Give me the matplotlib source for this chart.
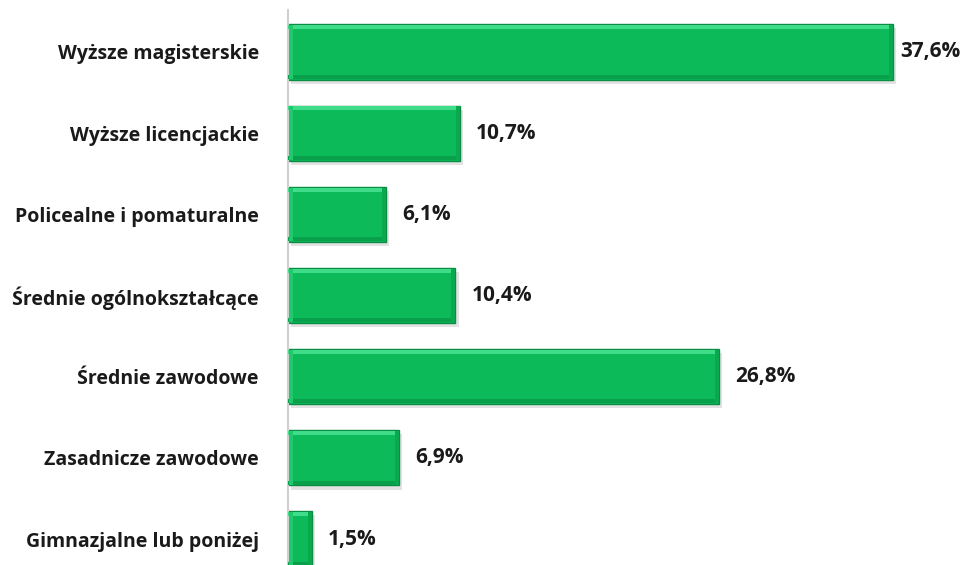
import matplotlib.pyplot as plt

categories = [
    "Wyższe magisterskie",
    "Wyższe licencjackie",
    "Policealne i pomaturalne",
    "Średnie ogólnokształcące",
    "Średnie zawodowe",
    "Zasadnicze zawodowe",
    "Gimnazjalne lub poniżej",
]
values = [37.6, 10.7, 6.1, 10.4, 26.8, 6.9, 1.5]
value_labels = ["37,6%", "10,7%", "6,1%", "10,4%", "26,8%", "6,9%", "1,5%"]

plt.rcParams['font.family'] = ['Open Sans', 'DejaVu Sans']

fig = plt.figure(figsize=(9.66, 5.65), dpi=100)
W, H = 966, 565
left, top, bottom = 288, 10, 565
ppu = 16.09  # pixels per percent
ax = fig.add_axes([left / W, 1 - bottom / H, (W - left) / W, (bottom - top) / H])

pos = list(range(len(categories)))
bh = 0.68
edge = 0.05           # bevel thickness in y units (~4 px)
side = 4 / ppu        # bevel thickness in x units

# soft shadow
ax.barh([p + 0.05 for p in pos], values, height=bh, left=0.2,
        color='#d6d6d6', alpha=0.7, zorder=1)
# main bar
ax.barh(pos, values, height=bh, color='#0cba5a', edgecolor='#0a8c44',
        linewidth=1.0, zorder=2)
# bevels: light top, darker bottom and right
ax.barh([p - bh / 2 + edge / 2 + 0.01 for p in pos], values, height=edge,
        color='#3fdc8a', linewidth=0, zorder=3)
ax.barh([p + bh / 2 - edge / 2 - 0.01 for p in pos], values, height=edge,
        color='#09a04c', linewidth=0, zorder=3)
ax.barh(pos, [side] * len(values), height=bh - 0.02,
        left=[v - side for v in values], color='#0aa84f', linewidth=0, zorder=3)
ax.barh(pos, [side] * len(values), height=bh - 0.02, left=0.05,
        color='#22c96c', linewidth=0, zorder=3)

xmax = (W - left) / ppu
for p, v, lab in zip(pos, values, value_labels):
    x = min(v + 16 / ppu, xmax - 66 / ppu)
    ax.text(x, p, lab, va='center', ha='left', fontsize=15,
            fontweight='bold', color='#1a1a1a')

ax.set_xlim(0, xmax)
ax.set_ylim(6.32, -0.517)
ax.set_yticks(pos)
ax.set_yticklabels(categories, fontsize=14, fontweight='bold', color='#1a1a1a')
ax.tick_params(axis='y', length=0, pad=21)
ax.set_xticks([])
for s in ['top', 'right', 'bottom']:
    ax.spines[s].set_visible(False)
ax.spines['left'].set_color('#d0d0d0')
ax.spines['left'].set_linewidth(1.5)

fig.savefig('out.png', dpi=100)
